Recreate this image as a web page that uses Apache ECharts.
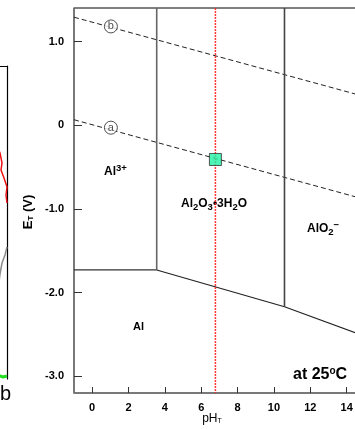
<!DOCTYPE html>
<html><head><meta charset="utf-8">
<script src="https://cdn.jsdelivr.net/npm/echarts@6/dist/echarts.min.js"></script>
<style>html,body{margin:0;padding:0;background:#fff}#c{width:355px;height:429px}</style>
</head><body><div id="c"></div>
<script>
// Axis ranges and tick positions for the Al–H2O potential–pH diagram
const phRange = [-1, 16];
const eRange = [-3.2, 1.4];
const phTicks = [0, 2, 4, 6, 8, 10, 12, 14, 16];
const eTicks = [-3, -2, -1, 0, 1];

// Phase boundaries, points are [pH, E (V)]
const al3AlLine = [[-1, -1.73], [3.55, -1.73]];
const al3OxideLine = [[3.55, 1.4], [3.55, -1.73]];
const oxideAlLine = [[3.55, -1.73], [10.58, -2.17]];
const oxideAluminateLine = [[10.58, 1.4], [10.58, -2.17]];
const aluminateAlLine = [[10.58, -2.17], [16, -2.60]];

// Water stability lines (a: H2 evolution, b: O2 evolution)
const waterLineA = [[-1, 0.065], [16, -0.946]];
const waterLineB = [[-1, 1.29], [16, 0.282]];
const waterTags = [['a', 1.03, -0.03], ['b', 1.03, 1.18]];

// Measured state of the sample
const measuredPH = 6.78;
const measuredE = -0.41;

// Neighbouring panel traces, [x, y] in that panel's own units
const sideRed = [[80, 250], [88, 238], [93, 226], [95, 216], [94, 209], [97, 201], [100, 192], [99, 184], [100, 176]];
const sideGrey = [[84, 70], [91, 89], [93, 105], [95, 116], [98, 124], [100, 132]];
const sideGreen = [[85, 3], [90, 2], [93, 3], [96, 2], [100, 3]];

const font = 'Liberation Sans, Arial, sans-serif';
const chart = echarts.init(document.getElementById('c'), null, {renderer: 'canvas'});

const boundaryStyle = (data, color, width) => ({
  type: 'line', data, xAxisIndex: 0, yAxisIndex: 0, showSymbol: false, silent: true,
  lineStyle: {color, width}, z: 3
});
const waterStyle = data => ({
  type: 'line', data, xAxisIndex: 0, yAxisIndex: 0, showSymbol: false, silent: true,
  lineStyle: {color: '#222', width: 1, type: [5, 3]}, z: 2
});

const sup = {fontSize: 9.5, fontWeight: 'bold', fontFamily: font, padding: [0, 0, 7, 0]};
const sub = {fontSize: 9.5, fontWeight: 'bold', fontFamily: font, padding: [6, 0, 0, 0]};
const base = {fontSize: 12, fontWeight: 'bold', fontFamily: font};
const frameLine = {show: true, onZero: false, lineStyle: {color: '#000', width: 1.2}};

chart.setOption({
  animation: false,
  backgroundColor: '#fff',
  grid: [
    {left: 74, width: 309, top: 8, bottom: 36, show: true, borderColor: '#000', borderWidth: 1,
      containLabel: false, outerBoundsMode: 'none'},
    {left: 0, width: 7, top: 66, height: 313, containLabel: false, outerBoundsMode: 'none'}
  ],
  xAxis: [
    {
      type: 'value', min: phRange[0], max: phRange[1], gridIndex: 0,
      axisLine: {onZero: false, lineStyle: {color: '#777', width: 1.5}},
      axisTick: {inside: true, length: 6, customValues: phTicks, lineStyle: {color: '#333'}},
      axisLabel: {customValues: phTicks, color: '#000', fontWeight: 'bold', fontSize: 11, fontFamily: font, margin: 9},
      splitLine: {show: false}
    },
    {type: 'value', min: 93, max: 100, gridIndex: 1, position: 'top', axisLine: frameLine,
      axisTick: {show: false}, axisLabel: {show: false}, splitLine: {show: false}}
  ],
  yAxis: [
    {
      type: 'value', min: eRange[0], max: eRange[1], gridIndex: 0,
      axisLine: {onZero: false, lineStyle: {color: '#777', width: 1.5}},
      axisTick: {inside: true, length: 8, customValues: eTicks, lineStyle: {color: '#333'}},
      axisLabel: {customValues: eTicks, color: '#000', fontWeight: 'bold', fontSize: 11, fontFamily: font, margin: 10,
        formatter: v => v === 0 ? '0' : v.toFixed(1)},
      splitLine: {show: false}
    },
    {type: 'value', min: 0, max: 313, gridIndex: 1, position: 'right', axisLine: frameLine,
      axisTick: {show: false}, axisLabel: {show: false}, splitLine: {show: false}}
  ],
  series: [
    boundaryStyle(al3AlLine, '#333', 1.2),
    boundaryStyle(al3OxideLine, '#666', 1.6),
    boundaryStyle(oxideAlLine, '#222', 1.2),
    boundaryStyle(oxideAluminateLine, '#444', 1.6),
    boundaryStyle(aluminateAlLine, '#222', 1.2),
    waterStyle(waterLineA),
    waterStyle(waterLineB),
    {
      type: 'scatter', xAxisIndex: 0, yAxisIndex: 0, silent: true, z: 4,
      data: waterTags.map(t => ({name: t[0], value: [t[1], t[2]]})),
      symbol: 'circle', symbolSize: 13,
      itemStyle: {color: '#fff', borderColor: '#222', borderWidth: 1},
      label: {show: true, position: 'inside', formatter: p => p.name, color: '#222', fontSize: 11, fontFamily: font}
    },
    {
      type: 'line', xAxisIndex: 0, yAxisIndex: 0, showSymbol: false, silent: true, z: 5,
      data: [[measuredPH, eRange[1]], [measuredPH, eRange[0]]],
      lineStyle: {color: '#ff2020', width: 1.5, type: [2, 1], opacity: 0.9}
    },
    {
      type: 'scatter', xAxisIndex: 0, yAxisIndex: 0, silent: true, z: 6,
      data: [[measuredPH, measuredE]], symbol: 'rect', symbolSize: 12,
      itemStyle: {color: '#1ff2a2', borderColor: '#333', borderWidth: 1}
    },
    {type: 'line', xAxisIndex: 1, yAxisIndex: 1, data: sideRed, showSymbol: false, silent: true,
      lineStyle: {color: '#ee1111', width: 1.5}},
    {type: 'line', xAxisIndex: 1, yAxisIndex: 1, data: sideGrey, showSymbol: false, silent: true,
      lineStyle: {color: '#8a8a8a', width: 1.5}},
    {type: 'line', xAxisIndex: 1, yAxisIndex: 1, data: sideGreen, showSymbol: false, silent: true,
      lineStyle: {color: '#22dd22', width: 3}}
  ],
  graphic: [
    {type: 'text', x: 104, y: 172, style: {text: '{b|Al}{p|3+}', verticalAlign: 'middle',
      rich: {b: base, p: sup}}},
    {type: 'text', x: 181, y: 204, style: {text: '{b|Al}{s|2}{b|O}{s|3}{b|•3H}{s|2}{b|O}', verticalAlign: 'middle',
      rich: {b: base, s: sub}}},
    {type: 'text', x: 307, y: 229, style: {text: '{b|AlO}{s|2}{p|−}', verticalAlign: 'middle',
      rich: {b: base, s: sub, p: sup}}},
    {type: 'text', x: 133, y: 327, style: {text: 'Al', verticalAlign: 'middle', fill: '#000',
      font: 'bold 11px ' + font}},
    {type: 'text', x: 293, y: 375, style: {text: '{b|at 25}{p|o}{b|C}', verticalAlign: 'middle',
      rich: {b: {fontSize: 16, fontWeight: 'bold', fontFamily: font}, p: {fontSize: 10, fontWeight: 'bold', fontFamily: font, padding: [0, 0, 8, 0]}}}},
    {type: 'text', x: 28, y: 212, rotation: Math.PI / 2, style: {text: '{b|E}{s|T}{b| (V)}', align: 'center', verticalAlign: 'middle',
      rich: {b: {fontSize: 13, fontWeight: 'bold', fontFamily: font}, s: {fontSize: 8, fontWeight: 'bold', fontFamily: font, padding: [6, 0, 0, 0]}}}},
    {type: 'text', x: 212, y: 419, style: {text: '{b|pH}{s|T}', align: 'center', verticalAlign: 'middle',
      rich: {b: {fontSize: 12, fontFamily: font}, s: {fontSize: 7, fontFamily: font, padding: [5, 0, 0, 0]}}}},
    {type: 'text', x: 0, y: 394, style: {text: 'b', verticalAlign: 'middle', fill: '#000', font: '20px ' + font}}
  ]
});
</script>
</body></html>
